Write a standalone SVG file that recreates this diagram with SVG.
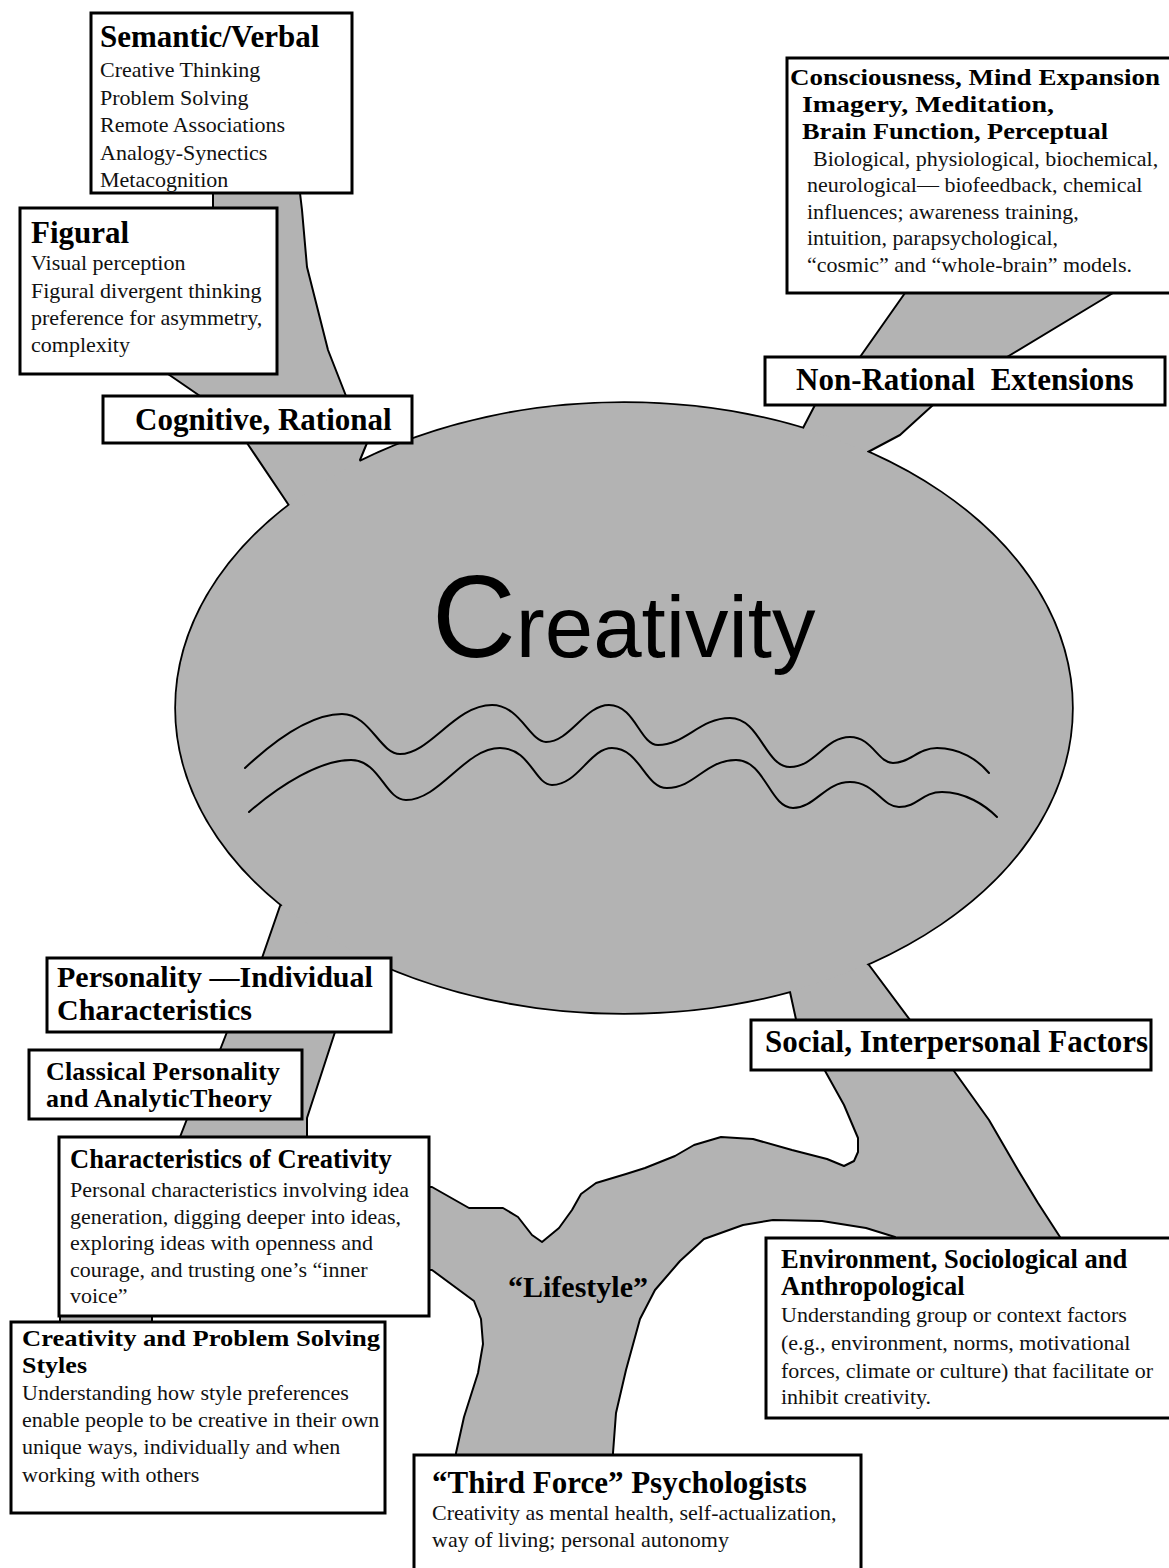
<svg xmlns="http://www.w3.org/2000/svg" width="1169" height="1568" viewBox="0 0 1169 1568">
<style>
.bg{fill:#fff}
.eggline{fill:#b3b3b3;stroke:#000;stroke-width:3.5}
.eggfill{fill:#b3b3b3;stroke:none}
.br{fill:#b3b3b3;stroke:#000;stroke-width:2;stroke-linejoin:round}
.box{fill:#fff;stroke:#000;stroke-width:3}
.wave{fill:none;stroke:#000;stroke-width:2;stroke-linecap:round;stroke-linejoin:round}
.t{font-family:"Liberation Serif","Times New Roman",serif;fill:#111}
.b{font-weight:bold;fill:#000}
.s22{font-size:22px}
.big{font-family:"Liberation Sans",Arial,sans-serif;fill:#000}
</style>
<rect class="bg" x="0" y="0" width="1169" height="1568"/>

<g id="creativity-outline">
<ellipse class="eggline" cx="624" cy="708" rx="448" ry="305"/>
</g>

<g id="connectors">
<polygon id="branch-cognitive" class="br" points="213,185 300,185 300,193 302,210 307,267 328,350 346,396 367,443 360,460 400,520 320,530 292,510 284,498 247,443 200,396 168,374 213,208"/>
<polygon id="branch-nonrational" class="br" points="912,280 905,293 860,357 815,405 803,428 805,480 880,480 868,452 900,435 933,405 1007,357 1113,293 1130,280"/>
<polygon id="branch-personality" class="br" points="300,890 280,906 262,958 227,1032 220,1050 187,1119 180,1137 60,1316 60,1330 152,1330 152,1316 307,1137 307,1118 335,1032 385,1000 385,962 360,930"/>
<polygon id="branch-social-upper" class="br" points="785,960 790,992 797,1024 913,1024 869,965 850,950"/>
<polygon id="branch-lifestyle" class="br" points="432,1187 469,1208 503,1208 518,1217 532,1235 542,1242 559,1228 572,1210 581,1194 596,1183 626,1174 645,1168 675,1156 694,1145 721,1137 753,1139 792,1150 827,1159 844,1166 854,1161 858,1152 858,1138 844,1105 824,1069 824,1060 955,1060 954,1071 989,1120 1018,1170 1038,1203 1060,1237 1060,1245 895,1245 895,1237 866,1228 822,1221 773,1220 743,1225 704,1239 680,1261 655,1290 640,1319 626,1370 616,1413 613,1453 613,1465 456,1465 456,1453 464,1417 478,1373 483,1344 481,1319 474,1301 432,1270 420,1270 420,1187"/>
<text class="t b" x="508" y="1297" font-size="30">“Lifestyle”</text>
</g>

<g id="node-creativity">
<ellipse class="eggfill" cx="624" cy="708" rx="448" ry="305"/>
<text class="big" x="432" y="657"><tspan font-size="116">C</tspan><tspan font-size="87">reativity</tspan></text>
<path class="wave" d="M245,768 C275,740 310,714 342,714 C370,714 380,754 400,754 C430,754 455,705 492,705 C520,705 530,742 546,742 C570,742 585,705 609,705 C635,705 640,745 658,745 C685,745 700,718 730,718 C760,718 765,767 790,767 C815,767 825,737 850,737 C872,737 878,763 893,763 C910,763 918,748 937,748 C960,748 978,760 989,773"/>
<path class="wave" d="M249,812 C280,785 320,760 351,760 C380,760 385,800 406,800 C440,800 465,748 500,748 C530,748 535,785 552,785 C578,785 590,748 612,748 C640,748 645,788 667,788 C695,788 705,760 736,760 C765,760 770,808 793,808 C815,808 825,782 850,782 C875,782 882,807 899,807 C918,807 922,792 942,792 C965,792 985,805 997,817"/>
</g>

<g id="node-semantic">
<rect class="box" x="91" y="13" width="261" height="180"/>
<text class="t b" x="100" y="47" font-size="31">Semantic/Verbal</text>
<text class="t s22" x="100" y="77">Creative Thinking</text>
<text class="t s22" x="100" y="104.5">Problem Solving</text>
<text class="t s22" x="100" y="132">Remote Associations</text>
<text class="t s22" x="100" y="159.5">Analogy-Synectics</text>
<text class="t s22" x="100" y="187">Metacognition</text>
</g>

<g id="node-figural">
<rect class="box" x="20" y="208" width="257" height="166"/>
<text class="t b" x="31" y="243" font-size="31">Figural</text>
<text class="t s22" x="31" y="270">Visual perception</text>
<text class="t s22" x="31" y="298">Figural divergent thinking</text>
<text class="t s22" x="31" y="325">preference for asymmetry,</text>
<text class="t s22" x="31" y="352">complexity</text>
</g>

<g id="node-cognitive">
<rect class="box" x="103" y="396" width="309" height="47"/>
<text class="t b" x="135" y="430" font-size="31">Cognitive, Rational</text>
</g>

<g id="node-consciousness">
<rect class="box" x="787" y="58" width="390" height="235"/>
<text class="t b" x="790" y="85" font-size="24" textLength="370" lengthAdjust="spacingAndGlyphs">Consciousness, Mind Expansion</text>
<text class="t b" x="802" y="112" font-size="24" textLength="252" lengthAdjust="spacingAndGlyphs">Imagery, Meditation,</text>
<text class="t b" x="802" y="139" font-size="24" textLength="306" lengthAdjust="spacingAndGlyphs">Brain Function, Perceptual</text>
<text class="t s22" x="813" y="166">Biological, physiological, biochemical,</text>
<text class="t s22" x="807" y="192">neurological— biofeedback, chemical</text>
<text class="t s22" x="807" y="219">influences; awareness training,</text>
<text class="t s22" x="807" y="245">intuition, parapsychological,</text>
<text class="t s22" x="807" y="272">“cosmic” and “whole-brain” models.</text>
</g>

<g id="node-nonrational">
<rect class="box" x="765" y="357" width="400" height="48"/>
<text class="t b" x="796" y="390" font-size="31">Non-Rational &#160;Extensions</text>
</g>

<g id="node-personality">
<rect class="box" x="47" y="958" width="344" height="74"/>
<text class="t b" x="57" y="987" font-size="30">Personality —Individual</text>
<text class="t b" x="57" y="1020" font-size="30">Characteristics</text>
</g>

<g id="node-classical">
<rect class="box" x="29" y="1050" width="273" height="69"/>
<text class="t b" x="46" y="1080" font-size="26" textLength="234">Classical Personality</text>
<text class="t b" x="46" y="1107" font-size="26" textLength="226">and AnalyticTheory</text>
</g>

<g id="node-characteristics">
<rect class="box" x="59" y="1137" width="370" height="179"/>
<text class="t b" x="70" y="1168" font-size="26.5">Characteristics of Creativity</text>
<text class="t s22" x="70" y="1197">Personal characteristics involving idea</text>
<text class="t s22" x="70" y="1224">generation, digging deeper into ideas,</text>
<text class="t s22" x="70" y="1250">exploring ideas with openness and</text>
<text class="t s22" x="70" y="1277">courage, and trusting one’s “inner</text>
<text class="t s22" x="70" y="1303">voice”</text>
</g>

<g id="node-styles">
<rect class="box" x="11" y="1322" width="374" height="191"/>
<text class="t b" x="22" y="1346" font-size="24" textLength="358" lengthAdjust="spacingAndGlyphs">Creativity and Problem Solving</text>
<text class="t b" x="22" y="1373" font-size="24" textLength="65" lengthAdjust="spacingAndGlyphs">Styles</text>
<text class="t s22" x="22" y="1400">Understanding how style preferences</text>
<text class="t s22" x="22" y="1427">enable people to be creative in their own</text>
<text class="t s22" x="22" y="1454">unique ways, individually and when</text>
<text class="t s22" x="22" y="1482">working with others</text>
</g>

<g id="node-social">
<rect class="box" x="751" y="1020" width="400" height="50"/>
<text class="t b" x="765" y="1052" font-size="31">Social, Interpersonal Factors</text>
</g>

<g id="node-environment">
<rect class="box" x="766" y="1238" width="410" height="180"/>
<text class="t b" x="781" y="1268" font-size="26.5">Environment, Sociological and</text>
<text class="t b" x="781" y="1295" font-size="26.5">Anthropological</text>
<text class="t s22" x="781" y="1322">Understanding group or context factors</text>
<text class="t s22" x="781" y="1350">(e.g., environment, norms, motivational</text>
<text class="t s22" x="781" y="1378">forces, climate or culture) that facilitate or</text>
<text class="t s22" x="781" y="1404">inhibit creativity.</text>
</g>

<g id="node-thirdforce">
<rect class="box" x="414" y="1455" width="447" height="125"/>
<text class="t b" x="432" y="1493" font-size="31">“Third Force” Psychologists</text>
<text class="t s22" x="432" y="1520">Creativity as mental health, self-actualization,</text>
<text class="t s22" x="432" y="1547">way of living; personal autonomy</text>
</g>
</svg>
